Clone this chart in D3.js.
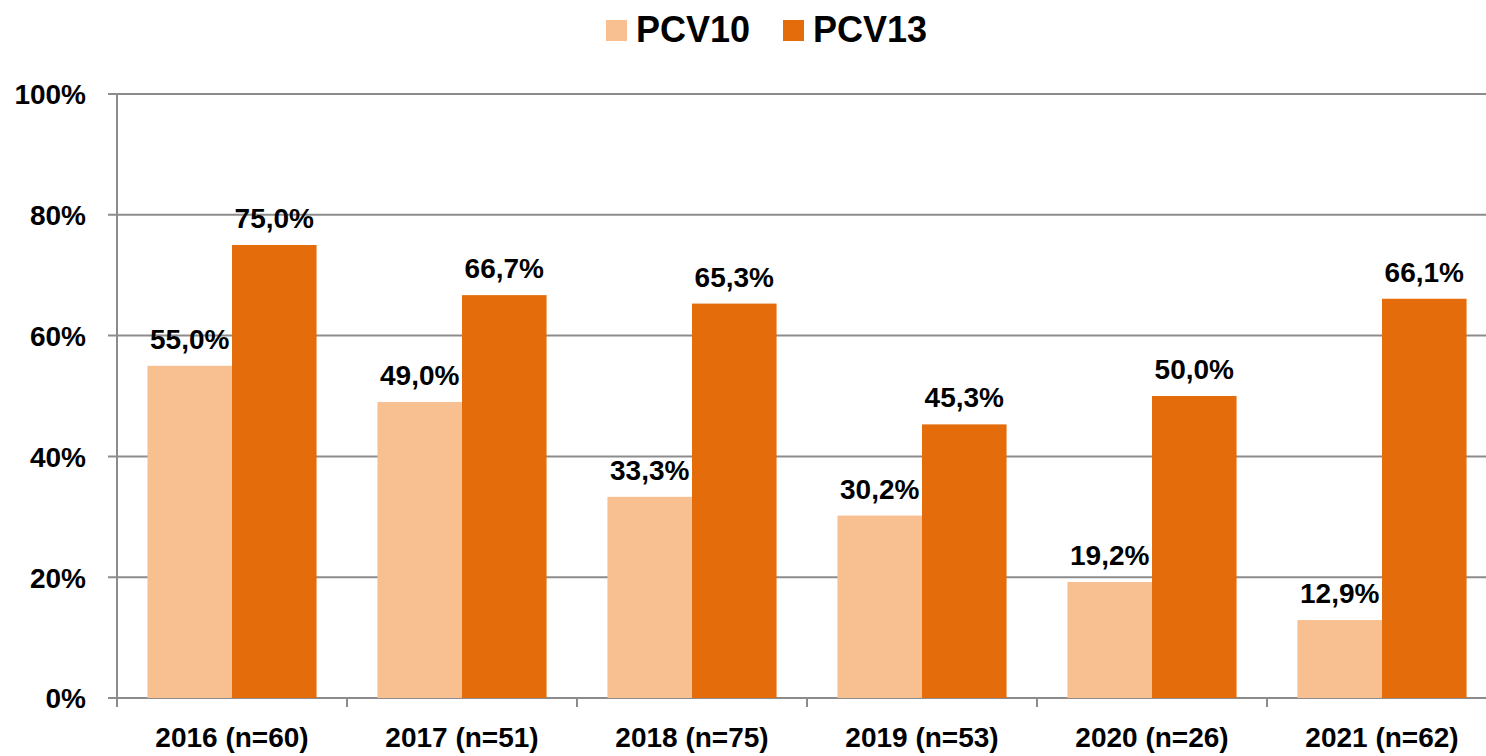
<!DOCTYPE html>
<html>
<head>
<meta charset="utf-8">
<script src="https://cdn.jsdelivr.net/npm/d3@7"></script>
<style>
  html, body { margin: 0; padding: 0; background: #fff; overflow: hidden; }
  svg { display: block; font-family: 'Liberation Sans', Arial, sans-serif; font-weight: bold; }
</style>
</head>
<body>
<svg id="chart"></svg>
<script>
const years = ['2016', '2017', '2018', '2019', '2020', '2021'];
const counts = [60, 51, 75, 53, 26, 62];
const seriesNames = ['PCV10', 'PCV13'];
const pcv10 = [55.0, 49.0, 33.3, 30.2, 19.2, 12.9];
const pcv13 = [75.0, 66.7, 65.3, 45.3, 50.0, 66.1];
const yTicks = [0, 20, 40, 60, 80, 100];
const colors = ['#F8C091', '#E46C0A'];

const width = 1486;
const height = 756;
const plotLeft = 117;
const plotRight = 1497;
const plotTop = 94;
const plotBottom = 698;

const svg = d3.select('#chart')
  .attr('width', width)
  .attr('height', height);

const data = years.map((y, i) => ({
  year: y,
  label: `${y} (n=${counts[i]})`,
  values: [pcv10[i], pcv13[i]]
}));

const xScale = d3.scaleBand()
  .domain(years)
  .range([plotLeft, plotRight])
  .padding(0);

const subScale = d3.scaleBand()
  .domain(seriesNames)
  .range([0, xScale.bandwidth()])
  .paddingInner(0)
  .paddingOuter(0.36);

const yScale = d3.scaleLinear()
  .domain([0, 100])
  .range([plotBottom, plotTop]);

const fmt = v => d3.format('.1f')(v).replace('.', ',') + '%';

// gridlines
svg.append('g')
  .selectAll('line')
  .data(yTicks)
  .join('line')
  .attr('x1', plotLeft - 9)
  .attr('x2', width)
  .attr('y1', d => yScale(d))
  .attr('y2', d => yScale(d))
  .attr('stroke', '#8c8c8c')
  .attr('stroke-width', 2);

// y axis
const yAxis = svg.append('g')
  .attr('transform', `translate(${plotLeft}, 0)`)
  .call(d3.axisLeft(yScale).tickValues(yTicks).tickSize(0).tickPadding(31).tickFormat(d => d + '%'));
yAxis.select('.domain').remove();
yAxis.selectAll('text')
  .attr('font-size', 28)
  .attr('font-weight', 'bold')
  .attr('font-family', "'Liberation Sans', Arial, sans-serif")
  .attr('fill', '#000')
  .attr('dy', '0.35em');

svg.append('line')
  .attr('x1', plotLeft).attr('x2', plotLeft)
  .attr('y1', plotTop).attr('y2', plotBottom + 9)
  .attr('stroke', '#8c8c8c')
  .attr('stroke-width', 2);

// bars
const groups = svg.append('g')
  .selectAll('g')
  .data(data)
  .join('g')
  .attr('transform', d => `translate(${xScale(d.year)}, 0)`);

groups.selectAll('rect')
  .data(d => d.values.map((v, i) => ({ key: seriesNames[i], value: v, i })))
  .join('rect')
  .attr('x', d => subScale(d.key))
  .attr('width', subScale.bandwidth())
  .attr('y', d => yScale(d.value))
  .attr('height', d => yScale(0) - yScale(d.value))
  .attr('fill', d => colors[d.i]);

groups.selectAll('text')
  .data(d => d.values.map((v, i) => ({ key: seriesNames[i], value: v })))
  .join('text')
  .attr('x', d => subScale(d.key) + subScale.bandwidth() / 2)
  .attr('y', d => yScale(d.value) - 17)
  .attr('text-anchor', 'middle')
  .attr('font-size', 28)
  .attr('fill', '#000')
  .text(d => fmt(d.value));

// x axis
const xAxis = svg.append('g')
  .attr('transform', `translate(0, ${plotBottom})`)
  .call(d3.axisBottom(xScale).tickSize(0).tickPadding(45).tickFormat((d, i) => data[i].label));
xAxis.select('.domain').remove();
xAxis.selectAll('text')
  .attr('font-size', 28)
  .attr('font-weight', 'bold')
  .attr('font-family', "'Liberation Sans', Arial, sans-serif")
  .attr('fill', '#000')
  .attr('dy', '0.15em');

svg.append('g')
  .selectAll('line')
  .data(years.slice(1))
  .join('line')
  .attr('x1', d => xScale(d))
  .attr('x2', d => xScale(d))
  .attr('y1', plotBottom)
  .attr('y2', plotBottom + 9)
  .attr('stroke', '#8c8c8c')
  .attr('stroke-width', 2);

// legend
const legendItems = [{ name: 'PCV10', x: 606 }, { name: 'PCV13', x: 783 }];
const legend = svg.append('g')
  .selectAll('g')
  .data(legendItems)
  .join('g')
  .attr('transform', d => `translate(${d.x}, 20)`);
legend.append('rect')
  .attr('width', 21)
  .attr('height', 21)
  .attr('fill', (d, i) => colors[i]);
legend.append('text')
  .attr('x', 30)
  .attr('y', 22)
  .attr('font-size', 36)
  .attr('fill', '#000')
  .text(d => d.name);
</script>
</body>
</html>
